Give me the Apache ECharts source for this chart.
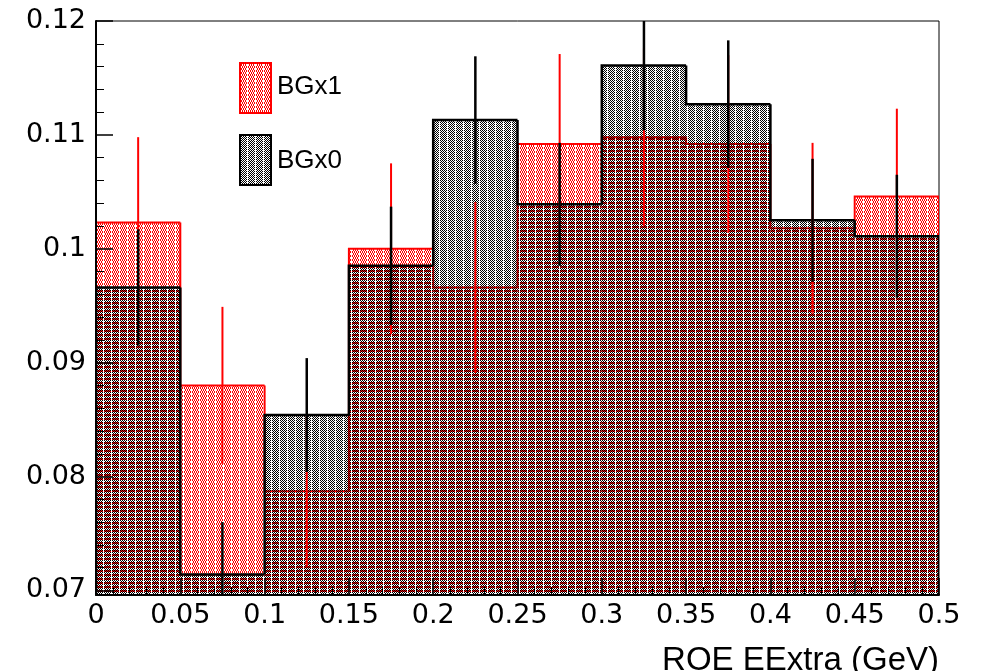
<!DOCTYPE html>
<html>
<head>
<meta charset="utf-8">
<script src="https://cdn.jsdelivr.net/npm/echarts@6/dist/echarts.min.js"></script>
<style>
html,body{margin:0;padding:0;background:#fff;}
#chart{width:981px;height:671px;}
</style>
</head>
<body>
<div id="chart"></div>
<script>
// ---- data ----
var binEdges = [0, 0.05, 0.1, 0.15, 0.2, 0.25, 0.3, 0.35, 0.4, 0.45, 0.5];
var bgx1Values = [0.1023, 0.0880, 0.0787, 0.1000, 0.0966, 0.1092, 0.1098, 0.1092, 0.1018, 0.1046];
var bgx1Errors = [0.0075, 0.0069, 0.0066, 0.0075, 0.0075, 0.0079, 0.0078, 0.0078, 0.0075, 0.0077];
var bgx0Values = [0.0966, 0.0714, 0.0854, 0.0985, 0.1113, 0.1039, 0.1161, 0.1127, 0.1025, 0.1011];
var bgx0Errors = [0.0051, 0.0046, 0.0050, 0.0052, 0.0056, 0.0054, 0.0057, 0.0056, 0.0054, 0.0054];
var seriesNames = ['BGx1', 'BGx0'];
var xAxisTitle = 'ROE EExtra (GeV)';
var yMin = 0.0696, yMax = 0.12;

// ---- hatch patterns (ROOT-like dotted fill) ----
function makePattern(color, shifted) {
  var c = document.createElement('canvas');
  c.width = 8; c.height = 4;
  var ctx = c.getContext('2d');
  ctx.fillStyle = color;
  for (var y = 0; y < 4; y++) {
    for (var x = 0; x < 7; x++) {
      var ph = (shifted && y >= 2) ? 1 : 0;
      if ((x + y + ph) % 2 === 0) ctx.fillRect(x, y, 1, 1);
    }
  }
  return {image: c, repeat: 'repeat'};
}
var redPattern = makePattern('#ff0000', true);
var blackPattern = makePattern('#000000', false);

function histData(values, errors) {
  return values.map(function (v, i) {
    return [binEdges[i], binEdges[i + 1], v, errors[i],
            i === 0 ? yMin : values[i - 1], i === values.length - 1 ? 1 : 0];
  });
}

function makeHistRender(color, pattern, lw) {
  return function (params, api) {
    var lo = api.value(0), hi = api.value(1), v = api.value(2);
    var prev = api.value(4), last = api.value(5);
    var cs = params.coordSys;
    var top = cs.y, bottom = cs.y + cs.height;
    function cy(y) { return Math.max(top, Math.min(bottom, y)); }
    var pLo = api.coord([lo, v]);
    var pHi = api.coord([hi, v]);
    var pPrev = api.coord([lo, prev]);
    var pts = [[pLo[0], cy(pPrev[1])], [pLo[0], pLo[1]], [pHi[0], pHi[1]]];
    if (last) pts.push([pHi[0], bottom]);
    return {
      type: 'group',
      children: [
        {type: 'rect', shape: {x: pLo[0], y: pLo[1], width: pHi[0] - pLo[0], height: bottom - pLo[1]},
         style: {fill: pattern, stroke: null}},
        {type: 'polyline', shape: {points: pts},
         style: {fill: 'none', stroke: color, lineWidth: lw, lineJoin: 'miter'}}
      ]
    };
  };
}

function makeErrRender(color, lw) {
  return function (params, api) {
    var lo = api.value(0), hi = api.value(1), v = api.value(2), e = api.value(3);
    var cs = params.coordSys;
    var top = cs.y, bottom = cs.y + cs.height;
    function cy(y) { return Math.max(top, Math.min(bottom, y)); }
    var xc = api.coord([(lo + hi) / 2, v])[0];
    var eTop = cy(api.coord([lo, v + e])[1]);
    var eBot = cy(api.coord([lo, v - e])[1]);
    return {type: 'line', shape: {x1: xc, y1: eTop, x2: xc, y2: eBot},
            style: {stroke: color, lineWidth: lw}};
  };
}

var numFont = 'DejaVu Sans';
var txtFont = 'Liberation Sans';
var d1 = histData(bgx1Values, bgx1Errors);
var d0 = histData(bgx0Values, bgx0Errors);

var chart = echarts.init(document.getElementById('chart'), null, {renderer: 'canvas'});
chart.setOption({
  animation: false,
  backgroundColor: '#fff',
  grid: {left: 96, right: 42, top: 21, bottom: 76, containLabel: false, outerBoundsMode: 'none',
         show: true, borderColor: '#000', borderWidth: 1, backgroundColor: 'transparent'},
  xAxis: {
    type: 'value', min: 0, max: 0.5, interval: 0.05, z: 10,
    axisLine: {lineStyle: {color: '#000', width: 2}},
    axisTick: {inside: true, length: 17, lineStyle: {color: '#000', width: 1.5}},
    minorTick: {show: true, splitNumber: 5, length: 8, lineStyle: {color: '#000', width: 1}},
    splitLine: {show: false},
    axisLabel: {fontSize: 27, fontFamily: numFont, color: '#000', margin: 7},
    name: xAxisTitle, nameLocation: 'end', nameGap: 0,
    nameTextStyle: {fontSize: 33, fontFamily: txtFont, color: '#000', align: 'right', verticalAlign: 'top', padding: [49, 0, 0, 0]}
  },
  yAxis: {
    type: 'value', min: yMin, max: yMax, splitNumber: 5, z: 10,
    axisLine: {lineStyle: {color: '#000', width: 2}},
    axisTick: {inside: true, length: 17, lineStyle: {color: '#000', width: 1.5}},
    minorTick: {show: true, splitNumber: 5, length: 8, lineStyle: {color: '#000', width: 1}},
    splitLine: {show: false},
    axisLabel: {fontSize: 27, fontFamily: numFont, color: '#000', margin: 10, showMinLabel: false}
  },
  series: [
    {type: 'custom', name: seriesNames[0], silent: true, clip: true, z: 2,
     encode: {x: [0, 1], y: 2}, data: d1,
     renderItem: makeHistRender('#ff0000', redPattern, 2)},
    {type: 'custom', name: seriesNames[1], silent: true, clip: true, z: 3,
     encode: {x: [0, 1], y: 2}, data: d0,
     renderItem: makeHistRender('#000000', blackPattern, 2.5)},
    {type: 'custom', name: seriesNames[0] + ' err', silent: true, clip: true, z: 4,
     encode: {x: [0, 1], y: 2}, data: d1,
     renderItem: makeErrRender('#ff0000', 2)},
    {type: 'custom', name: seriesNames[1] + ' err', silent: true, clip: true, z: 5,
     encode: {x: [0, 1], y: 2}, data: d0,
     renderItem: makeErrRender('#000000', 2.5)}
  ],
  graphic: [
    {type: 'rect', left: 239, top: 62, shape: {width: 31, height: 50}, z: 20,
     style: {fill: redPattern, stroke: '#ff0000', lineWidth: 2}},
    {type: 'text', left: 277, top: 74, z: 20,
     style: {text: seriesNames[0], fontSize: 26, fontFamily: txtFont, fill: '#000'}},
    {type: 'rect', left: 239, top: 134, shape: {width: 31, height: 50}, z: 20,
     style: {fill: blackPattern, stroke: '#000000', lineWidth: 2}},
    {type: 'text', left: 277, top: 148, z: 20,
     style: {text: seriesNames[1], fontSize: 26, fontFamily: txtFont, fill: '#000'}}
  ]
});
</script>
</body>
</html>
